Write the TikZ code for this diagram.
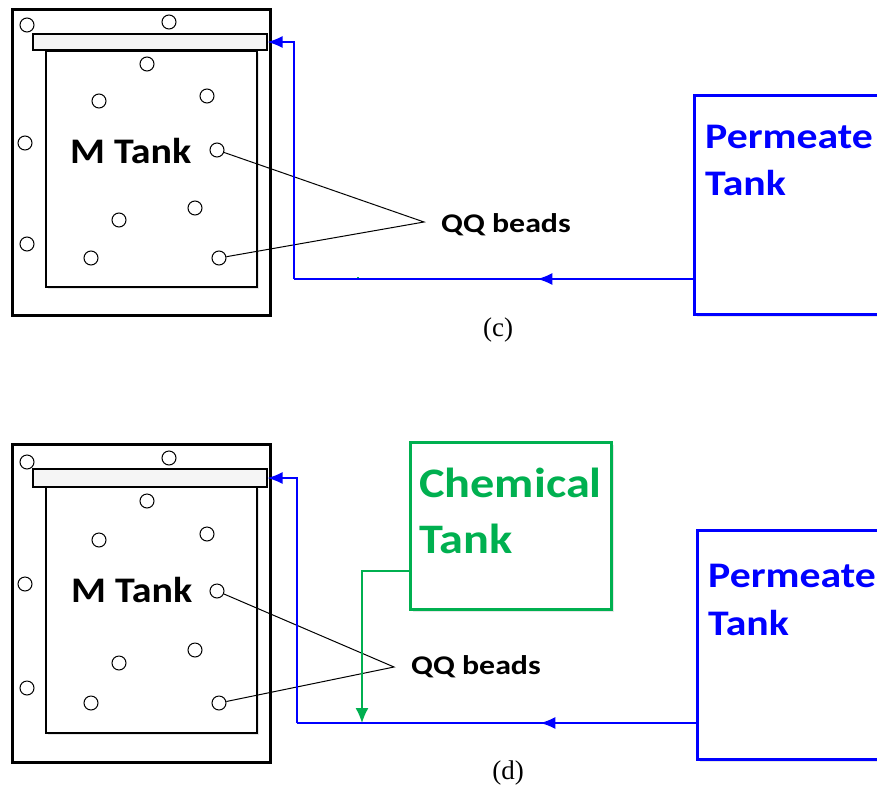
\documentclass[tikz,border=0pt]{standalone}
\usepackage{fontspec}
\setmainfont{Liberation Serif}
\newfontfamily\labelfont{Carlito}
\usetikzlibrary{arrows.meta,decorations.markings,shadows}
\definecolor{chemgreen}{RGB}{0,176,80}
\definecolor{permblue}{RGB}{0,0,255}
\newcommand{\wideM}[1]{\scalebox{1.11}[1]{#1}}
\newcommand{\wideP}[1]{\scalebox{1.16}[1]{#1}}
\newcommand{\wideC}[1]{\scalebox{1.15}[1]{#1}}
\newcommand{\wideQ}[1]{\scalebox{1.18}[1]{#1}}
\begin{document}
\begin{tikzpicture}[x=1pt,y=-1pt,
  outertank/.style={draw=black,line width=3pt},
  innertank/.style={draw=black,line width=1.4pt,fill=white,drop shadow={opacity=0.2,shadow xshift=2pt,shadow yshift=-2pt}},
  lidbar/.style={draw=black,line width=1.2pt,fill=gray!8},
  bead/.style={circle,draw=black,line width=1pt,minimum size=14pt,inner sep=0pt},
  pointer/.style={draw=black,line width=1pt},
  tanklabel/.style={font=\labelfont\bfseries\fontsize{36}{40}\selectfont,anchor=base west,inner sep=0pt},
  beadlabel/.style={font=\labelfont\bfseries\fontsize{27}{30}\selectfont,anchor=base west,inner sep=0pt},
  permtext/.style={font=\labelfont\bfseries\fontsize{36}{40}\selectfont,text=permblue,anchor=base west,inner sep=0pt},
  chemtext/.style={font=\labelfont\bfseries\fontsize{42}{46}\selectfont,text=chemgreen,anchor=base west,inner sep=0pt},
  permbox/.style={draw=permblue,line width=3pt,fill=white,drop shadow={opacity=0.2,shadow xshift=2pt,shadow yshift=-2pt}},
  chembox/.style={draw=chemgreen,line width=3pt,fill=white,drop shadow={opacity=0.2,shadow xshift=2pt,shadow yshift=-2pt}},
  flow/.style={draw=permblue,line width=1.4pt},
  chemflow/.style={draw=chemgreen,line width=1.4pt},
  midarrow/.style={postaction={decorate},decoration={markings,mark=at position #1 with {\arrow{Latex[length=15pt,width=12pt]}}}},
  caption/.style={font=\fontsize{27}{30}\selectfont,inner sep=0pt}
]
\useasboundingbox (0,0) rectangle (877,787);

% ================= panel (c) =================
\draw[outertank] (12,9) rectangle (270,315);
\draw[innertank] (46,51) rectangle (257,287);
\node[lidbar,rectangle,minimum width=234pt,minimum height=16pt,inner sep=0pt] (lidc) at (150,42) {};
\foreach \n/\p in {c1/{(27,25)},c2/{(169,22)},c3/{(147,64)},c4/{(99,101)},c5/{(207,96)},c6/{(25,143)},c8/{(195,208)},c9/{(119,220)},c10/{(27,244)},c11/{(91,258)}}
  \node[bead] (\n) at \p {};
\node[bead] (bc1) at (217,150) {};
\node[bead] (bc2) at (219,258) {};
\node[tanklabel] (mtankc) at (70,163) {\wideM{M Tank}};
\coordinate (apexc) at (424,222);
\draw[pointer] (bc1) -- (apexc) -- (bc2);
\node[beadlabel] (qqc) at (441,232) {\wideQ{QQ beads}};

\node[permbox,rectangle,minimum width=200pt,minimum height=219pt,inner sep=0pt,anchor=north west] (permc) at (693,94) {};
\node[permtext] (permc1) at (705,148) {\wideP{Permeate}};
\node[permtext] (permc2) at (705,195) {\wideP{Tank}};
\coordinate (jc) at (294,279);
\draw[flow,midarrow=0.39] (permc.west |- jc) -- (jc);
\draw[flow,-{Latex[length=15pt,width=12pt]}] (jc) -- (jc |- lidc.east) -- (lidc.east);
\draw[chemgreen,line width=1pt] (357,277.5) -- (359,277.5);
\node[caption] (capc) at (498,330) {(c)};

% ================= panel (d) =================
\draw[outertank] (12,444) rectangle (270,762);
\draw[innertank] (46,487) rectangle (257,733);
\node[lidbar,rectangle,minimum width=234pt,minimum height=18pt,inner sep=0pt] (lidd) at (150,478) {};
\foreach \n/\p in {d1/{(27,462)},d2/{(169,458)},d3/{(147,501)},d4/{(99,540)},d5/{(207,534)},d6/{(25,584)},d8/{(195,650)},d9/{(119,663)},d10/{(27,688)},d11/{(91,703)}}
  \node[bead] (\n) at \p {};
\node[bead] (bd1) at (217,591) {};
\node[bead] (bd2) at (219,703) {};
\node[tanklabel] (mtankd) at (71,602) {\wideM{M Tank}};
\coordinate (apexd) at (394,667);
\draw[pointer] (bd1) -- (apexd) -- (bd2);
\node[beadlabel] (qqd) at (411,674) {\wideQ{QQ beads}};

\node[chembox,rectangle,minimum width=201pt,minimum height=167pt,inner sep=0pt,anchor=north west] (chem) at (409,441) {};
\node[chemtext] (chem1) at (419,497) {\wideC{Chemical}};
\node[chemtext] (chem2) at (419,553) {\wideC{Tank}};

\node[permbox,rectangle,minimum width=200pt,minimum height=229pt,inner sep=0pt,anchor=north west] (permd) at (696,529) {};
\node[permtext] (permd1) at (708,587) {\wideP{Permeate}};
\node[permtext] (permd2) at (708,635) {\wideP{Tank}};
\coordinate (jd) at (297,723);
\coordinate (gd) at (362,723);
\draw[flow,midarrow=0.39] (permd.west |- jd) -- (jd);
\draw[flow,-{Latex[length=15pt,width=12pt]}] (jd) -- (jd |- lidd.east) -- (lidd.east);
\draw[chemflow,-{Latex[length=15pt,width=13pt]}] (chem.west |- 0,571) -- (gd |- 0,571) -- (gd);
\node[caption] (capd) at (508,773) {(d)};
\end{tikzpicture}
\end{document}
